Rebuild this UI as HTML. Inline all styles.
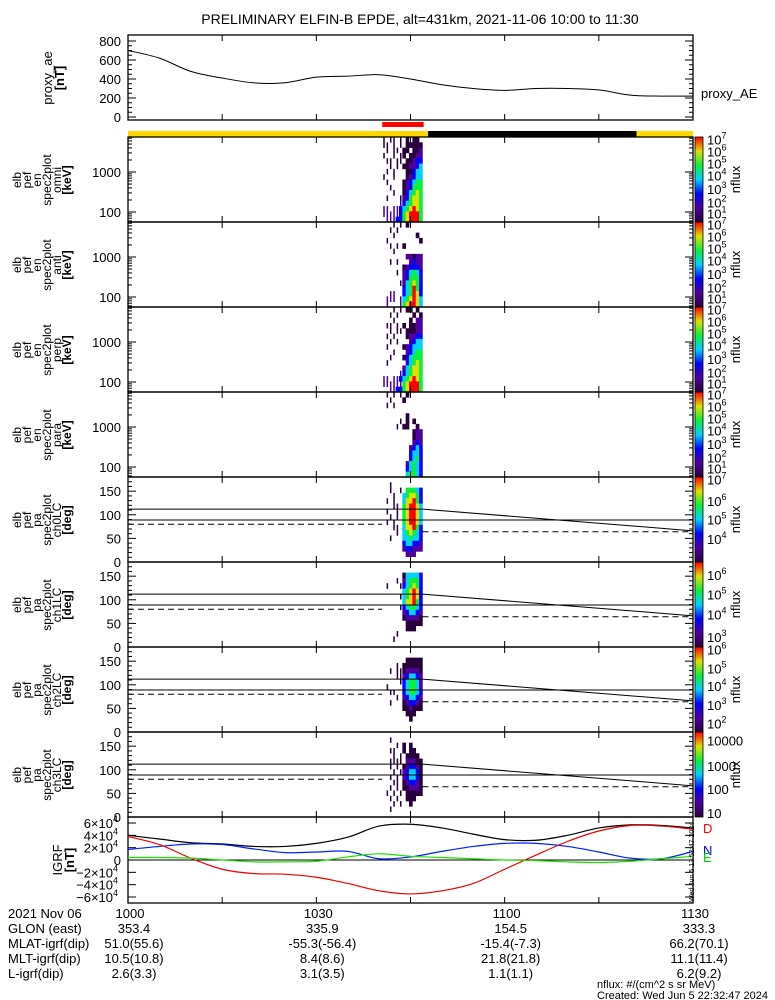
<!DOCTYPE html>
<html><head><meta charset="utf-8"><style>
html,body{margin:0;padding:0;background:#fff}
svg{display:block;font-family:"Liberation Sans",sans-serif}
text{font-size:13px;fill:#000}
</style></head><body>
<svg id="fig" width="775" height="1000" viewBox="0 0 775 1000" xmlns="http://www.w3.org/2000/svg">
<rect x="0" y="0" width="775" height="1000" fill="#fff"/>
<text x="420" y="24" text-anchor="middle" style="font-size:14px">PRELIMINARY ELFIN-B EPDE, alt=431km, 2021-11-06 10:00 to 11:30</text>
<g id="g"></g>
</svg>
<script>
// ---- data ----
const timesMin = [0,5,10,15,20,25,30,35,40,45,50,55,60,65,70,75,80,85,90];
const proxyAE = [700,620,480,410,360,360,420,430,445,400,340,300,280,300,300,285,230,220,220];
const igrfTotal = [40,34,28,26,22,22,27,37,55,58,52,42,33,32,40,52,57,56,52];
const igrfN = [17,22,26,25,18,12,13,14,2,5,14,22,27,27,22,13,3,2,14];
const igrfD = [38,25,3,-15,-22,-23,-28,-38,-50,-55,-50,-38,-15,8,30,47,56,55,50];
const igrfE = [4,4,3,0,-3,-3,-2,5,10,6,4,2,0,-1,-3,-4,-2,2,6];
const xTickLabels = ["1000","1030","1100","1130"];
const xTickMins = [0,30,60,90];
const glon = ["353.4","335.9","154.5","333.3"];
const mlat = ["51.0(55.6)","-55.3(-56.4)","-15.4(-7.3)","66.2(70.1)"];
const mlt = ["10.5(10.8)","8.4(8.6)","21.8(21.8)","11.1(11.4)"];
const lval = ["2.6(3.3)","3.1(3.5)","1.1(1.1)","6.2(9.2)"];
const specStartMin = 40.5, specEndMin = 46.9;
const omni = ["101101010110","110101011111","010110110112","100101101122","011011011233","001010112234","010100011344","100100012344","010000123455","001000123555","000100134565","010001235665","000002345665","220223456765","222223567775","022233567775"];
const anti = ["000101010000","001010000000","000100000010","010000000001","001010100000","000100000000","000000022122","001010002322","000000123332","000010234543","000000235553","000001245653","000000345753","002200345763","022202456764","020002567764"];
const perp = ["000101011010","001010000101","000100001022","011010101122","001011011122","010100012233","001010002344","010000123444","000100023455","001000134555","010000034565","000000245665","000002345665","220223456765","222222567775","002233567775"];
const para = ["010101010000","001000100000","010100000000","000000000000","000000010000","000001010100","000010110010","000000000122","000000000122","000000000232","000000002343","000000003443","000000003453","000000024543","000000034543","000000045543"];
const ch0 = ["000000000000","001000000000","001001055543","000100456653","010100466753","000110567764","010010567764","001010567764","010100567764","000110466753","000010456543","001000445443","000000344332","000000233222","000000022200","000000000000"];
const ch1 = ["000000000000","000000000000","000000144443","000010245553","010001345653","000000456763","000001456763","000000466753","000001345543","000000234432","000000122221","000000011111","000000011100","000010000000","000100000000","000000000000"];
const ch2 = ["000000000000","000000000000","000000011111","000010111111","001011122221","000011234432","000001345542","010000345542","001100345543","000010234432","001000123321","000000112111","000000011100","000000001000","000000000000","000000000000"];
const ch3 = ["000000000000","001000000000","000010101000","001100101100","000101011110","001111022211","001010123321","000101234431","001010234431","000110123321","001010112221","010101011111","001010011100","000101001000","001000000000","000000000000"];
const paLines = [112,89,80,64,66];

// ---- layout ----
const NS="http://www.w3.org/2000/svg";
const g=document.getElementById('g');
const X0=128,X1=693;
const xs=m=>X0+(m/90)*(X1-X0);
function el(tag,attrs,parent){const e=document.createElementNS(NS,tag);for(const k in attrs)e.setAttribute(k,attrs[k]);(parent||g).appendChild(e);return e;}
function txt(x,y,s,attrs,parent){const t=el('text',Object.assign({x:x,y:y},attrs||{}),parent);t.textContent=s;return t;}
function cmap(d){const stops=[[0,[40,0,60]],[0.17,[80,0,160]],[0.33,[0,0,255]],[0.5,[0,210,255]],[0.66,[0,240,60]],[0.8,[210,255,0]],[0.9,[255,160,0]],[1,[255,0,0]]];
 const t=Math.max(0,Math.min(1,(d-1)/6));for(let i=1;i<stops.length;i++){if(t<=stops[i][0]){const a=stops[i-1],b=stops[i];const f=(t-a[0])/(b[0]-a[0]);const c=a[1].map((v,j)=>Math.round(v+(b[1][j]-v)*f));return `rgb(${c[0]},${c[1]},${c[2]})`;}}return 'rgb(255,0,0)';}
function smoothPath(pts){let d='M'+pts[0][0]+','+pts[0][1];
 for(let i=0;i<pts.length-1;i++){const p0=pts[Math.max(0,i-1)],p1=pts[i],p2=pts[i+1],p3=pts[Math.min(pts.length-1,i+2)];
  const c1=[p1[0]+(p2[0]-p0[0])/6,p1[1]+(p2[1]-p0[1])/6],c2=[p2[0]-(p3[0]-p1[0])/6,p2[1]-(p3[1]-p1[1])/6];
  d+=` C${c1[0]},${c1[1]} ${c2[0]},${c2[1]} ${p2[0]},${p2[1]}`;}return d;}

function rotLabel(lines,cy,name,boldLast){
 const gg=el('g',{});
 
 
 lines.forEach((s,i)=>{const x=21+i*10;txt(x,cy,s,{transform:`rotate(-90 ${x} ${cy})`,'text-anchor':'middle','style':'font-size:12px'+(boldLast&&i==lines.length-1?';font-weight:bold':'')},gg);});
}
function xTicks(top,bot){
 for(let m=0;m<=90;m+=15){const x=xs(m);el('line',{x1:x,y1:bot,x2:x,y2:bot-6,stroke:'#000'});el('line',{x1:x,y1:top,x2:x,y2:top+6,stroke:'#000'});}
}
function frame(top,bot,name){const r=el('rect',{x:X0,y:top,width:X1-X0,height:bot-top,fill:'none',stroke:'#000','stroke-width':1.3});}
function colorbar(top,bot,labels,name){
 const id='cb'+Math.round(top);
 const lg=el('linearGradient',{id:id,x1:0,y1:1,x2:0,y2:0});
 for(let i=1;i<=7;i++)el('stop',{offset:(i-1)/6,'stop-color':cmap(i)},lg);
 const r=el('rect',{x:695,y:top,width:8,height:bot-top,fill:`url(#${id})`,stroke:'#000','stroke-width':0.8});
 
 
 labels.forEach(l=>{const y=bot-(l[0])*(bot-top);const t=el('text',{x:707,y:y+5,'style':'font-size:13px'});
  if(l[2]!==undefined){t.textContent=l[1];const s=el('tspan',{dy:-6,'style':'font-size:9px'},t);s.textContent=l[2];}else t.textContent=l[1];});
 const cy=(top+bot)/2;txt(740,cy,'nflux',{transform:`rotate(-90 740 ${cy})`,'text-anchor':'middle'});
}

// ---- proxy AE panel ----
const aeTop=35,aeBot=120;const aeY=v=>117-(v/800)*76;
frame(aeTop,aeBot,'proxy-ae-panel');xTicks(aeTop,aeBot);
[0,200,400,600,800].forEach(v=>{const y=aeY(v);txt(121,y+5,String(v),{'text-anchor':'end'});el('line',{x1:X0,y1:y,x2:X0+8,y2:y,stroke:'#000'});el('line',{x1:X1,y1:y,x2:X1-8,y2:y,stroke:'#000'});
 for(let k=1;k<4&&v<800;k++){const yy=aeY(v+k*50);el('line',{x1:X0,y1:yy,x2:X0+4,y2:yy,stroke:'#000'});el('line',{x1:X1,y1:yy,x2:X1-4,y2:yy,stroke:'#000'});}});
const aeLine=el('path',{d:smoothPath(timesMin.map((m,i)=>[xs(m),aeY(proxyAE[i])])),fill:'none',stroke:'#000'});


txt(701,98,'proxy_AE',{});
(function(){const gg=el('g',{});
 txt(52,78,'proxy_ae',{transform:'rotate(-90 52 78)','text-anchor':'middle'},gg);txt(64,78,'[nT]',{transform:'rotate(-90 64 78)','text-anchor':'middle','style':'font-weight:bold'},gg);})();

// ---- status bars ----
const sb=el('rect',{x:xs(specStartMin),y:122,width:xs(specEndMin+0.2)-xs(specStartMin),height:5,fill:'#f00'});


const y1=el('rect',{x:X0,y:131,width:xs(47.8)-X0,height:6,fill:'#ffd800'});


const b1=el('rect',{x:xs(47.8),y:131,width:xs(81)-xs(47.8),height:6,fill:'#000'});


const y2=el('rect',{x:xs(81),y:131,width:X1-xs(81),height:6,fill:'#ffd800'});



// ---- spectrogram panels ----
const cols=12;
function drawCells(mat,top,bot,name){
 const gg=el('g',{});
 const w=(xs(specEndMin)-xs(specStartMin))/cols;const h=(bot-top)/mat.length;
 mat.forEach((row,r)=>{for(let c=0;c<cols;c++){const d=+row[c];if(!d)continue;
  const x=xs(specStartMin)+c*w;const thin=d<=2&&c<6;
  const cell=el('rect',{x:thin?x+w*0.3:x,y:top+r*h,width:thin?w*0.45:w+0.3,height:h+0.3,fill:cmap(d)},gg);
  
  }});
}
const enPanels=[[omni,'omni'],[anti,'anti'],[perp,'perp'],[para,'para']];
enPanels.forEach((p,i)=>{
 const top=137+i*85,bot=top+85;
 const ey=e=>bot-10-(Math.log10(e)-2)*40;
 drawCells(p[0],top,bot,'energy-spectrogram-'+p[1]);
 frame(top,bot,'energy-panel-'+p[1]);xTicks(top,bot);
 [100,1000].forEach(v=>txt(121,ey(v)+5,String(v),{'text-anchor':'end'}));
 for(let dec=1;dec<=3;dec++)for(let k=1;k<=9;k++){const e=k*Math.pow(10,dec);const y=ey(e);if(y<top||y>bot)continue;const L=k==1?8:4;
  el('line',{x1:X0,y1:y,x2:X0+L,y2:y,stroke:'#000'});el('line',{x1:X1,y1:y,x2:X1-L,y2:y,stroke:'#000'});}
 rotLabel(['elb','pef','en','spec2plot',p[1],'[keV]'],top+43,'y-title-'+p[1],true);
 colorbar(top,bot,[[0.97,'10','7'],[0.83,'10','6'],[0.69,'10','5'],[0.55,'10','4'],[0.39,'10','3'],[0.23,'10','2'],[0.1,'10','1']],'colorbar-'+p[1]);
});
const paPanels=[[ch0,'ch0LC',[[0.97,'10','7'],[0.72,'10','6'],[0.5,'10','5'],[0.27,'10','4']]],[ch1,'ch1LC',[[0.85,'10','6'],[0.62,'10','5'],[0.38,'10','4'],[0.12,'10','3']]],[ch2,'ch2LC',[[0.97,'10','6'],[0.75,'10','5'],[0.54,'10','4'],[0.32,'10','3'],[0.1,'10','2']]],[ch3,'ch3LC',[[0.9,'10000'],[0.6,'1000'],[0.33,'100'],[0.05,'10']]]];
paPanels.forEach((p,i)=>{
 const top=477+i*85,bot=top+85;
 const py=d=>bot-(d/180)*85;
 drawCells(p[0],top,bot,'pitch-spectrogram-'+p[1]);
 frame(top,bot,'pitch-panel-'+p[1]);xTicks(top,bot);
 [0,50,100,150].forEach(v=>txt(121,py(v)+5,String(v),{'text-anchor':'end'}));
 for(let d=0;d<=180;d+=10){const y=py(d);const L=d%50==0?8:4;el('line',{x1:X0,y1:y,x2:X0+L,y2:y,stroke:'#000'});el('line',{x1:X1,y1:y,x2:X1-L,y2:y,stroke:'#000'});}
 const xe=xs(specEndMin);
 el('line',{x1:X0,y1:py(paLines[0]),x2:xe,y2:py(paLines[0]),stroke:'#000'});
 el('line',{x1:xe,y1:py(paLines[0]),x2:X1,y2:py(paLines[4]),stroke:'#000'});
 el('line',{x1:X0,y1:py(paLines[1]),x2:X1,y2:py(paLines[1]),stroke:'#000'});
 el('line',{x1:X0,y1:py(paLines[2]),x2:xs(specStartMin),y2:py(paLines[2]),stroke:'#000','stroke-dasharray':'6,4'});
 el('line',{x1:xe,y1:py(paLines[3]),x2:X1,y2:py(paLines[3]),stroke:'#000','stroke-dasharray':'6,4'});
 rotLabel(['elb','pef','pa','spec2plot',p[1],'[deg]'],top+43,'y-title-'+p[1],true);
 colorbar(top,bot,p[2],'colorbar-'+p[1]);
});

// ---- IGRF panel ----
const iTop=817,iBot=903;const iy=v=>860-(v/60)*37;
frame(iTop,iBot,'igrf-panel');xTicks(iTop,iBot);
el('line',{x1:X0,y1:iy(0),x2:X1,y2:iy(0),stroke:'#000'});
[[60,'6×10'],[40,'4×10'],[20,'2×10'],[0,'0'],[-20,'−2×10'],[-40,'−4×10'],[-60,'−6×10']].forEach(l=>{
 const y=iy(l[0]);const t=el('text',{x:l[0]==0?121:113,y:y+5,'text-anchor':'end'});t.textContent=l[1];
 if(l[0]!=0){const t2=el('text',{x:113,y:y-1,'style':'font-size:9px'});t2.textContent='4';}
 el('line',{x1:X0,y1:y,x2:X0+8,y2:y,stroke:'#000'});el('line',{x1:X1,y1:y,x2:X1-8,y2:y,stroke:'#000'});});
[[igrfTotal,'#000','igrf-total-line'],[igrfN,'#0020ff','igrf-n-line'],[igrfD,'#f00000','igrf-d-line'],[igrfE,'#20e000','igrf-e-line']].forEach(s=>{
 const pl=el('path',{d:smoothPath(timesMin.map((m,i)=>[xs(m),iy(s[0][i])])),fill:'none',stroke:s[1],'stroke-width':1.2});
 
 });
txt(703,833,'D',{'style':'fill:#f00'});
txt(703,855,'N',{'style':'fill:#00f'});
txt(703,862,'E',{'style':'fill:#0c0'});
(function(){const gg=el('g',{});
 txt(62,860,'IGRF',{transform:'rotate(-90 62 860)','text-anchor':'middle'},gg);txt(74,860,'[nT]',{transform:'rotate(-90 74 860)','text-anchor':'middle','style':'font-weight:bold'},gg);})();
txt(694,862,'Wed Jun  5 13:52:47 2024',{transform:'rotate(-90 694 862)','text-anchor':'middle','style':'font-size:7px'});

// ---- bottom annotations ----
const rowsY=[918,933,948,963,978];
const leftLabels=['2021 Nov 06','GLON (east)','MLAT-igrf(dip)','MLT-igrf(dip)','L-igrf(dip)'];
leftLabels.forEach((s,i)=>txt(8,rowsY[i],s,{}));
const rowsVals=[xTickLabels,glon,mlat,mlt,lval];
rowsVals.forEach((arr,r)=>arr.forEach((s,c)=>{const x=xs(xTickMins[c])+(r==0?2:6);txt(x,rowsY[r],s,{'text-anchor':'middle'});}));
txt(597,988,'nflux: #/(cm^2 s sr MeV)',{'style':'font-size:11px'});
txt(597,999,'Created: Wed Jun  5 22:32:47 2024',{'style':'font-size:11px'});
</script>
</body></html>
